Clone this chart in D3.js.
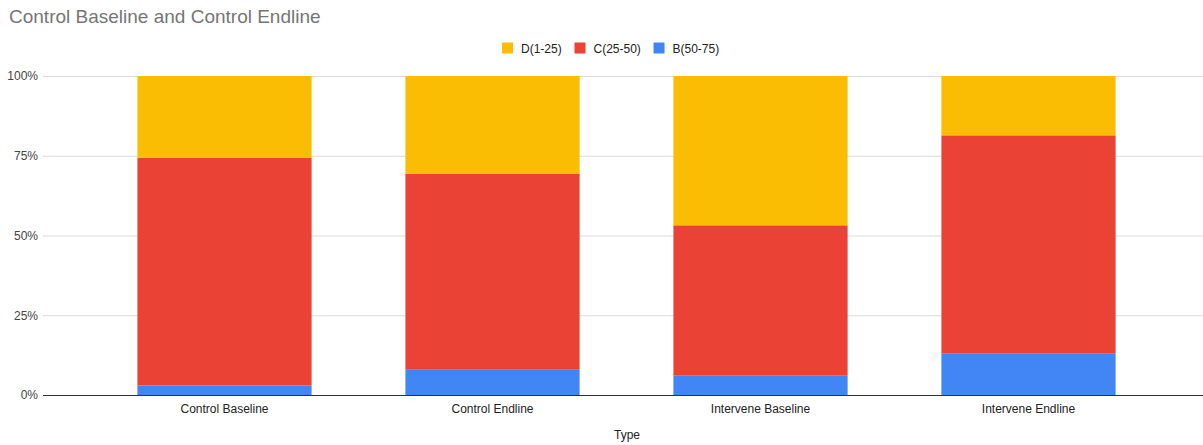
<!DOCTYPE html>
<html><head><meta charset="utf-8">
<script src="https://cdn.jsdelivr.net/npm/d3@7"></script>
<style>body{margin:0;background:#fff;}svg{display:block;font-family:"Liberation Sans",Arial,sans-serif;}</style>
</head><body>
<svg id="chart" width="1203" height="445"></svg>
<script>
const categories = ["Control Baseline", "Control Endline", "Intervene Baseline", "Intervene Endline"];
const seriesNames = ["B(50-75)", "C(25-50)", "D(1-25)"];
const valuesB = [0.030, 0.081, 0.062, 0.131];
const valuesC = [0.714, 0.613, 0.470, 0.683];
const valuesD = [0.256, 0.306, 0.468, 0.186];
const colors = ["#4285f4", "#ea4335", "#fbbc04"];
const yTicks = [0, 0.25, 0.5, 0.75, 1];
const legendOrder = ["D(1-25)", "C(25-50)", "B(50-75)"];

const rows = categories.map((c, i) => ({cat: c, "B(50-75)": valuesB[i], "C(25-50)": valuesC[i], "D(1-25)": valuesD[i]}));
const stacked = d3.stack().keys(seriesNames)(rows);
const color = d3.scaleOrdinal().domain(seriesNames).range(colors);

const svg = d3.select("#chart");
const x = d3.scaleBand().domain(categories).range([90.5, 1162.5]).paddingInner(0.35).paddingOuter(0.175);
const y = d3.scaleLinear().domain([0, 1]).range([395, 76]);

svg.append("text").attr("x", 9).attr("y", 23).attr("font-size", 19).attr("fill", "#757575").text("Control Baseline and Control Endline");

// gridlines
const yAxis = d3.axisLeft(y).tickValues(yTicks).tickFormat(d3.format(".0%")).tickSize(0).tickPadding(5);
const gy = svg.append("g").attr("transform", "translate(43,0)").call(yAxis);
gy.select(".domain").remove();
gy.selectAll("text").attr("font-size", 12).attr("fill", "#444").attr("font-family", "Liberation Sans, Arial, sans-serif");
gy.selectAll(".tick").append("line").attr("x1", 0).attr("x2", 1160).attr("stroke", "#d9d9d9").attr("stroke-width", 1);

svg.append("g").selectAll("g").data(stacked).join("g").attr("fill", d => color(d.key))
  .selectAll("rect").data(d => d).join("rect")
  .attr("x", d => x(d.data.cat)).attr("width", x.bandwidth())
  .attr("y", d => y(d[1])).attr("height", d => y(d[0]) - y(d[1]));

const xAxis = d3.axisBottom(x).tickSize(0).tickPadding(9);
const gx = svg.append("g").attr("transform", "translate(0,395)").call(xAxis);
gx.select(".domain").remove();
gx.selectAll("text").attr("font-size", 12).attr("fill", "#222").attr("font-family", "Liberation Sans, Arial, sans-serif");
svg.append("line").attr("x1", 43).attr("x2", 1203).attr("y1", 395.5).attr("y2", 395.5).attr("stroke", "#333").attr("stroke-width", 1);

svg.append("text").attr("x", 627).attr("y", 439).attr("text-anchor", "middle").attr("font-size", 12).attr("fill", "#222").text("Type");

// legend
const legendX = [502, 574.5, 653.5];
const lg = svg.append("g").selectAll("g").data(legendOrder).join("g")
  .attr("transform", (d, i) => `translate(${legendX[i]},42.5)`);
lg.append("rect").attr("width", 11).attr("height", 11).attr("fill", d => color(d));
lg.append("text").attr("x", 19).attr("y", 10).attr("font-size", 12).attr("fill", "#222").text(d => d);
</script>
</body></html>
